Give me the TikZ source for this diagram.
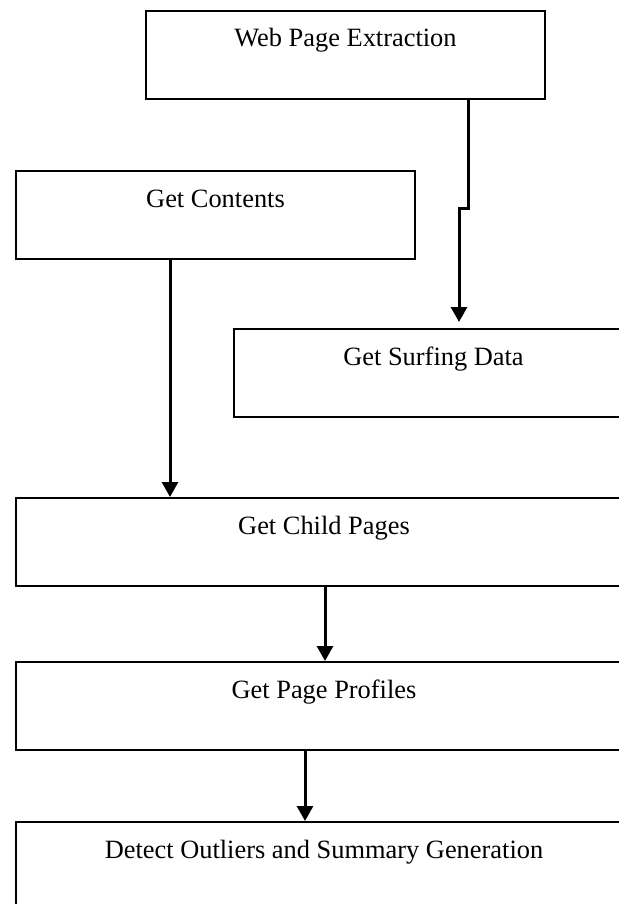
\documentclass[tikz,border=0pt]{standalone}
\usepackage{fontspec}
\setmainfont{Liberation Serif}
\usepackage{tikz}
\usetikzlibrary{shapes,arrows.meta}
\tikzstyle{block} = [rectangle, draw, line width=1pt, anchor=north west,
    minimum width=199.5pt, inner ysep=0pt, text height=18pt, text depth=26pt,
    font=\fontsize{13.2}{16}\selectfont]
\tikzstyle{wideblock} = [block, minimum width=308pt]
\tikzstyle{line} = [draw, line width=1.5pt, -{Triangle[length=7.5pt,width=8pt]}]

\begin{document}
\begin{tikzpicture}[x=0.5pt, y=-0.5pt]
    \useasboundingbox (0,0) rectangle (619,904);
    % Place nodes
    \node [block] (web_page) at (145,10) {Web Page Extraction};
    \node [block] (get_contents) at (15,170) {Get Contents};
    \node [block] (surfing_data) at (233,328) {Get Surfing Data};
    \node [wideblock] (child_pages) at (15,497) {Get Child Pages};
    \node [wideblock] (page_profiles) at (15,661) {Get Page Profiles};
    \node [wideblock] (outliers) at (15,821) {Detect Outliers and Summary Generation};

    % where the arrows leave the boxes
    \coordinate (jog_top) at (468,208);
    \coordinate (jog_low) at (459,208);
    \coordinate (contents_x) at (170,0);
    \coordinate (child_x) at (325,0);
    \coordinate (profiles_x) at (305,0);

    \path [line, shorten >=3pt] (web_page.south -| jog_top) -- (jog_top) -- (jog_low) -- (jog_low |- surfing_data.north);
    \path [line] (get_contents.south -| contents_x) -- (child_pages.north -| contents_x);
    \path [line] (child_pages.south -| child_x) -- (page_profiles.north -| child_x);
    \path [line] (page_profiles.south -| profiles_x) -- (outliers.north -| profiles_x);
\end{tikzpicture}
\end{document}
